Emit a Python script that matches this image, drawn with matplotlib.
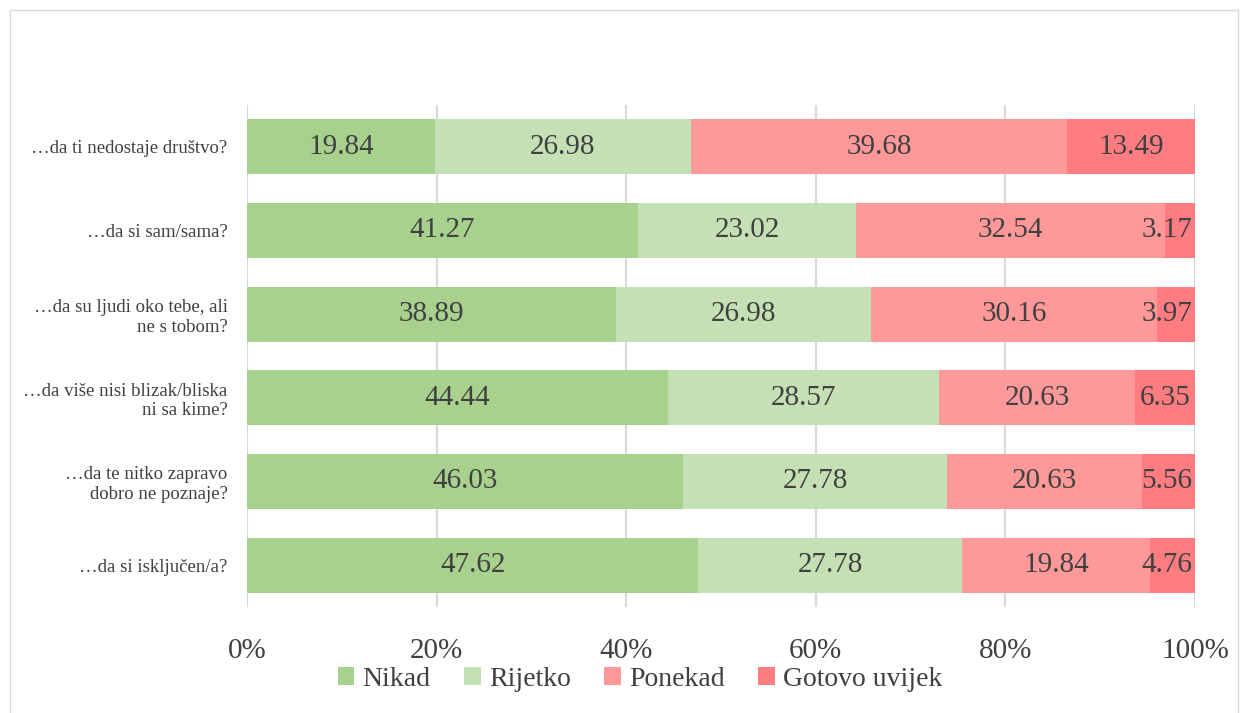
import numpy as np
import matplotlib.pyplot as plt
from matplotlib.patches import Rectangle

# --- Données ---
questions = [
    "…da ti nedostaje društvo?",
    "…da si sam/sama?",
    "…da su ljudi oko tebe, ali\nne s tobom?",
    "…da više nisi blizak/bliska\nni sa kime?",
    "…da te nitko zapravo\ndobro ne poznaje?",
    "…da si isključen/a?",
]
series = ["Nikad", "Rijetko", "Ponekad", "Gotovo uvijek"]
nikad = [19.84, 41.27, 38.89, 44.44, 46.03, 47.62]
rijetko = [26.98, 23.02, 26.98, 28.57, 27.78, 27.78]
ponekad = [39.68, 32.54, 30.16, 20.63, 20.63, 19.84]
gotovo = [13.49, 3.17, 3.97, 6.35, 5.56, 4.76]
ticks = [0, 20, 40, 60, 80, 100]

colors = ["#A9D18E", "#C5E0B4", "#FF9999", "#FF7C80"]
txt = "#404040"
plt.rcParams['font.family'] = ['Liberation Serif', 'DejaVu Serif']

fig = plt.figure(figsize=(12.48, 7.13), dpi=100)
fig.patches.append(Rectangle((10/1248, -0.01), 1228/1248, 1 - 10/713 + 0.01,
                             transform=fig.transFigure, fill=False,
                             edgecolor="#D9D9D9", lw=1))
ax = fig.add_axes([247/1248, 1 - 607/713, 948/1248, 502/713])

y = np.arange(len(questions))
left = np.zeros(len(questions))
for vals, col, name in zip([nikad, rijetko, ponekad, gotovo], colors, series):
    vals = np.array(vals)
    ax.barh(y, vals, left=left, height=0.66, color=col, label=name, zorder=2)
    for yi, l, v in zip(y, left, vals):
        # étiquette centrée, mais gardée dans la zone de tracé
        xc = min(l + v / 2, 97.0)
        ax.text(xc, yi, f"{v:.2f}", ha="center", va="center",
                fontsize=21, color=txt, zorder=3)
    left += vals

ax.set_xlim(0, 100)
ax.set_ylim(len(questions) - 0.5, -0.5)
ax.set_yticks(y)
ax.set_yticklabels(questions, fontsize=13.5, color=txt, ha="right")
ax.set_xticks(ticks)
ax.set_xticklabels([f"{t}%" for t in ticks], fontsize=21, color=txt)
ax.tick_params(axis="y", length=0, pad=14)
ax.tick_params(axis="x", length=0, pad=22)
ax.grid(axis="x", color="#D9D9D9", lw=1.5, zorder=0)
for s in ax.spines.values():
    s.set_visible(False)
ax.set_axisbelow(True)

leg = fig.legend(loc="center", bbox_to_anchor=(640/1248, 1 - 679/713), ncol=4,
                 frameon=False, fontsize=20, handlelength=0.6, handleheight=0.6,
                 handletextpad=0.3, columnspacing=1.2, labelcolor=txt)

fig.savefig("out.png", dpi=100)
